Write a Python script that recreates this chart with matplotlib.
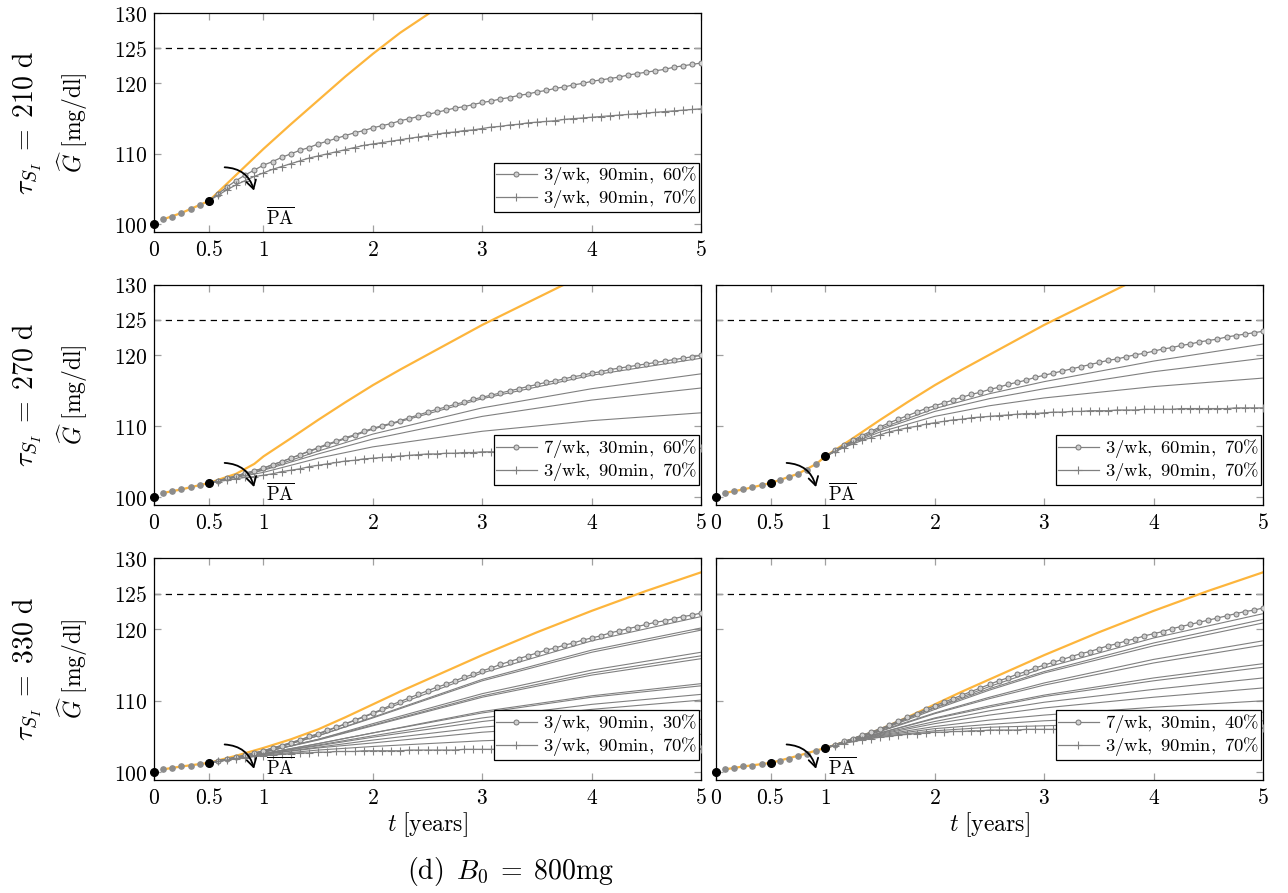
import numpy as np
import matplotlib
matplotlib.use("Agg")
import matplotlib.pyplot as plt

plt.rcParams.update({
    "mathtext.fontset": "cm",
    "font.family": "serif", "font.serif": ["DejaVu Serif"],
    "axes.linewidth": 0.9,
})

# ---------------- data ----------------
# baseline (no PA) glucose curves
orange210_t = [1/12, 0.25, 0.5, 0.75, 1.0, 1.25, 1.5, 1.75, 2.0, 2.25, 2.5, 2.75]
orange210 = [100.7, 101.6, 103.3, 107.0, 110.7, 114.2, 117.6, 121.0, 124.2, 127.2, 129.8, 132.5]
orange270_t = [1/12, 0.25, 0.5, 0.75, 11/12, 1.0, 1.25, 1.5, 1.75, 2.0, 2.25, 2.5, 2.75,
               3.0, 3.25, 3.5, 3.75, 4.0]
orange270 = [100.6, 101.1, 102.0, 103.3, 104.7, 105.75, 108.3, 110.9, 113.4, 115.8, 118.0,
             120.1, 122.2, 124.3, 126.2, 128.1, 130.0, 131.8]
orange330_t = [1/12, 0.25, 0.5, 0.75, 1.0, 1.25, 1.5, 1.75, 2.0, 2.25, 2.5, 2.75, 3.0,
               3.25, 3.5, 3.75, 4.0, 4.25, 4.5, 4.75, 5.0]
orange330 = [100.4, 100.8, 101.3, 102.3, 103.4, 104.6, 106.0, 107.7, 109.5, 111.3, 113.0,
             114.7, 116.4, 118.0, 119.6, 121.1, 122.6, 124.0, 125.4, 126.7, 128.0]

# monthly markers before PA starts (month 1, 2, ...)
pre210 = [100.7, 101.1, 101.6, 102.1, 102.7]
pre270 = [100.6, 100.9, 101.1, 101.4, 101.7, 102.0, 102.4, 102.8, 103.3, 103.9, 104.7]
pre330 = [100.4, 100.6, 100.8, 100.9, 101.1, 101.3, 101.6, 101.9, 102.3, 102.6, 103.0]

dots_t = [0.0, 0.5, 1.0]
dots210 = [100.0, 103.3]
dots270 = [100.0, 102.0, 105.75]
dots330 = [100.0, 101.3, 103.4]

# best (circle) and worst (plus) PA schedules, monthly from PA start
circ210 = [103.3, 104.3, 105.3, 106.2, 107.0, 107.7, 108.4, 108.9, 109.5, 110.0, 110.5, 110.9,
           111.4, 111.8, 112.2, 112.6, 113.0, 113.3, 113.7, 114.0, 114.3, 114.7, 115.0, 115.3,
           115.6, 115.9, 116.2, 116.5, 116.7, 117.0, 117.3, 117.5, 117.8, 118.0, 118.3, 118.5,
           118.8, 119.0, 119.3, 119.5, 119.8, 120.0, 120.3, 120.5, 120.7, 120.9, 121.2, 121.4,
           121.6, 121.8, 122.0, 122.3, 122.5, 122.7, 122.9]
plus210 = [103.3, 104.1, 104.9, 105.6, 106.2, 106.8, 107.3, 107.8, 108.2, 108.6, 109.0, 109.4,
           109.7, 110.0, 110.3, 110.6, 110.9, 111.2, 111.4, 111.6, 111.8, 112.0, 112.2, 112.4,
           112.6, 112.8, 113.0, 113.1, 113.3, 113.4, 113.6, 113.8, 113.9, 114.1, 114.2, 114.4,
           114.5, 114.6, 114.7, 114.9, 115.0, 115.1, 115.2, 115.3, 115.4, 115.5, 115.6, 115.7,
           115.8, 115.9, 116.0, 116.1, 116.2, 116.3, 116.4]

circ270a = [102.0, 102.3, 102.7, 103.0, 103.4, 103.7, 104.1, 104.6, 105.0, 105.5, 106.0, 106.5,
            107.0, 107.5, 107.9, 108.4, 108.8, 109.3, 109.7, 110.1, 110.4, 110.8, 111.2, 111.6,
            112.0, 112.4, 112.7, 113.1, 113.4, 113.8, 114.1, 114.4, 114.7, 115.0, 115.3, 115.6,
            115.9, 116.2, 116.4, 116.7, 117.0, 117.2, 117.5, 117.7, 118.0, 118.2, 118.4, 118.6,
            118.8, 119.0, 119.2, 119.4, 119.6, 119.8, 120.0]
plus270a = [102.0, 102.2, 102.4, 102.6, 102.8, 102.9, 103.1, 103.3, 103.6, 103.8, 104.0, 104.3,
            104.5, 104.7, 104.9, 105.1, 105.2, 105.4, 105.5, 105.6, 105.7, 105.8, 105.9, 106.0,
            106.1, 106.1, 106.2, 106.2, 106.3, 106.3, 106.4, 106.4, 106.4, 106.5, 106.5, 106.5,
            106.6, 106.6, 106.6, 106.6, 106.6, 106.7, 106.7, 106.7, 106.7, 106.7, 106.8, 106.8,
            106.8, 106.8, 106.8, 106.8, 106.9, 106.9, 106.9]

circ270b = [105.75, 106.6, 107.3, 108.0, 108.7, 109.3, 109.9, 110.5, 111.0, 111.5, 112.0, 112.5,
            112.9, 113.3, 113.7, 114.1, 114.5, 114.8, 115.2, 115.5, 115.9, 116.2, 116.5, 116.9,
            117.2, 117.5, 117.8, 118.1, 118.4, 118.7, 119.0, 119.3, 119.5, 119.8, 120.1, 120.3,
            120.6, 120.9, 121.1, 121.4, 121.6, 121.9, 122.1, 122.3, 122.6, 122.8, 123.0, 123.2,
            123.4]
plus270b = [105.75, 106.4, 107.0, 107.5, 108.0, 108.4, 108.8, 109.2, 109.5, 109.8, 110.0, 110.3,
            110.5, 110.7, 110.9, 111.0, 111.2, 111.3, 111.4, 111.5, 111.6, 111.7, 111.8, 111.8,
            111.9, 112.0, 112.0, 112.1, 112.1, 112.2, 112.2, 112.2, 112.3, 112.3, 112.3, 112.4,
            112.4, 112.4, 112.4, 112.5, 112.5, 112.5, 112.5, 112.5, 112.5, 112.6, 112.6, 112.6,
            112.6]

circ330a = [101.3, 101.6, 101.8, 102.1, 102.4, 102.7, 103.0, 103.4, 103.7, 104.1, 104.5, 105.0,
            105.4, 105.9, 106.3, 106.8, 107.3, 107.8, 108.3, 108.8, 109.4, 109.9, 110.4, 110.9,
            111.4, 111.9, 112.3, 112.8, 113.3, 113.7, 114.2, 114.6, 115.1, 115.5, 115.9, 116.3,
            116.7, 117.1, 117.4, 117.8, 118.1, 118.5, 118.8, 119.1, 119.5, 119.8, 120.1, 120.4,
            120.7, 121.0, 121.2, 121.5, 121.8, 122.0, 122.3]
plus330a = [101.3, 101.5, 101.7, 101.9, 102.0, 102.2, 102.3, 102.4, 102.5, 102.6, 102.7, 102.7,
            102.8, 102.8, 102.9, 102.9, 102.9, 103.0, 103.0, 103.0, 103.0, 103.0, 103.1, 103.1,
            103.1, 103.1, 103.1, 103.1, 103.2, 103.2, 103.2, 103.2, 103.2, 103.2, 103.2, 103.2,
            103.2, 103.2, 103.3, 103.3, 103.3, 103.3, 103.3, 103.3, 103.3, 103.3, 103.3, 103.3,
            103.3, 103.3, 103.3, 103.3, 103.3, 103.3, 103.3]

circ330b = [103.4, 103.8, 104.3, 104.7, 105.2, 105.6, 106.1, 106.6, 107.2, 107.7, 108.2, 108.8,
            109.3, 109.8, 110.3, 110.8, 111.3, 111.8, 112.3, 112.8, 113.2, 113.7, 114.1, 114.6,
            115.0, 115.4, 115.8, 116.2, 116.6, 116.9, 117.3, 117.7, 118.0, 118.4, 118.7, 119.1,
            119.4, 119.7, 120.1, 120.4, 120.7, 121.0, 121.3, 121.6, 121.9, 122.2, 122.5, 122.7,
            123.0]
plus330b = [103.4, 103.7, 104.0, 104.3, 104.5, 104.7, 104.9, 105.0, 105.2, 105.3, 105.4, 105.5,
            105.6, 105.6, 105.7, 105.7, 105.8, 105.8, 105.9, 105.9, 105.9, 105.9, 106.0, 106.0,
            106.0, 106.0, 106.0, 106.0, 106.0, 106.1, 106.1, 106.1, 106.1, 106.1, 106.1, 106.1,
            106.1, 106.1, 106.1, 106.1, 106.1, 106.2, 106.2, 106.2, 106.2, 106.2, 106.2, 106.2,
            106.2]

# other PA schedules (thin lines)
thin_t_a = [0.5, 0.75, 1.0, 1.5, 2.0, 3.0, 4.0, 5.0]
thin_t_b = [1.0, 1.25, 1.5, 2.0, 2.5, 3.0, 4.0, 5.0]
thin270a = [
    [102.0, 103.0, 104.1, 106.9, 109.6, 113.9, 117.2, 119.6],
    [102.0, 102.9, 103.9, 106.5, 108.9, 112.6, 115.3, 117.4],
    [102.0, 102.9, 103.8, 106.1, 108.2, 111.4, 113.7, 115.4],
    [102.0, 102.8, 103.5, 105.5, 107.1, 109.3, 110.8, 111.9],
]
thin270b = [
    [105.75, 107.9, 109.7, 112.5, 114.6, 116.3, 119.2, 121.6],
    [105.75, 107.8, 109.5, 112.1, 113.9, 115.3, 117.7, 119.6],
    [105.75, 107.7, 109.2, 111.4, 112.9, 114.0, 115.6, 116.8],
]
thin330a = [
    [101.3, 102.1, 103.0, 105.3, 108.2, 113.9, 118.4, 121.8],
    [101.3, 102.1, 102.9, 105.1, 107.7, 113.0, 117.1, 120.2],
    [101.3, 102.1, 102.9, 105.1, 107.6, 112.8, 116.8, 119.9],
    [101.3, 102.0, 102.8, 104.6, 106.8, 111.0, 114.3, 116.8],
    [101.3, 102.0, 102.8, 104.6, 106.6, 110.7, 113.9, 116.3],
    [101.3, 102.0, 102.8, 104.5, 106.5, 110.5, 113.6, 115.9],
    [101.3, 102.0, 102.6, 104.0, 105.5, 108.5, 110.7, 112.4],
    [101.3, 102.0, 102.6, 104.0, 105.5, 108.3, 110.5, 112.1],
    [101.3, 102.0, 102.6, 103.8, 105.1, 107.6, 109.5, 110.9],
    [101.3, 102.0, 102.6, 103.7, 104.9, 107.1, 108.8, 110.1],
    [101.3, 102.0, 102.5, 103.5, 104.5, 106.3, 107.6, 108.6],
    [101.3, 101.9, 102.5, 103.4, 104.1, 105.6, 106.6, 107.4],
    [101.3, 101.9, 102.4, 103.1, 103.6, 104.4, 104.9, 105.3],
]
thin330b = [
    [103.4, 104.7, 106.0, 109.1, 112.0, 114.6, 118.8, 122.2],
    [103.4, 104.7, 106.0, 109.0, 111.7, 114.1, 118.1, 121.4],
    [103.4, 104.6, 105.9, 108.8, 111.5, 113.9, 117.7, 120.9],
    [103.4, 104.6, 105.8, 108.3, 110.5, 112.5, 115.8, 118.4],
    [103.4, 104.6, 105.7, 108.2, 110.3, 112.2, 115.3, 117.8],
    [103.4, 104.5, 105.5, 107.6, 109.3, 110.8, 113.2, 115.2],
    [103.4, 104.5, 105.5, 107.5, 109.1, 110.6, 112.8, 114.7],
    [103.4, 104.5, 105.4, 107.1, 108.6, 109.8, 111.6, 113.2],
    [103.4, 104.4, 105.3, 106.8, 108.0, 109.0, 110.5, 111.8],
    [103.4, 104.4, 105.2, 106.4, 107.3, 108.0, 109.1, 110.0],
    [103.4, 104.4, 105.1, 106.1, 106.7, 107.2, 107.8, 108.4],
    [103.4, 104.3, 105.0, 105.8, 106.3, 106.5, 106.9, 107.2],
]

best_labels = ["3/wk, 90min, 60%", "7/wk, 30min, 60%", "3/wk, 60min, 70%",
               "3/wk, 90min, 30%", "7/wk, 30min, 40%"]
worst_label = "3/wk, 90min, 70%"
tau_labels = ["210", "270", "330"]
xticks = [0, 0.5, 1, 2, 3, 4, 5]
yticks = [100, 110, 120, 125, 130]
threshold = 125
# --------------------------------------------------

ORANGE = "#FDB53C"
GRAY = "#808080"


def mathrm(s):
    return r"$\mathrm{" + s.replace(" ", r"\ ").replace("%", r"\%") + "}$"


def draw_panel(ax, o_t, o_v, pre, pa_month, dots, circ, plus, thin_t, thin, best,
               arrow_y, pa_y, ylabels=True):
    months = np.arange(1, pa_month)
    ax.axhline(threshold, color="black", lw=0.9, ls=(0, (5, 4)), zorder=1)
    ax.plot(o_t, o_v, color=ORANGE, lw=1.6, zorder=2)
    for row in thin:
        ax.plot(thin_t, row, color=GRAY, lw=0.8, zorder=3)
    tc = (pa_month + np.arange(len(circ))) / 12
    tp = (pa_month + np.arange(len(plus))) / 12
    ax.plot(tc, circ, color=GRAY, lw=0.9, marker="o", ms=3.6, mfc="#cfcfcf",
            mec="#777777", mew=0.7, zorder=4, label=mathrm(best))
    ax.plot(tp, plus, color=GRAY, lw=0.9, marker="+", ms=6, mew=0.8, zorder=4,
            label=mathrm(worst_label))
    ax.plot(months / 12, pre[:pa_month - 1], ls="none", marker="o", ms=3.8,
            color="#8c8c8c", zorder=5)
    ax.plot(dots_t[:len(dots)], dots, ls="none", marker="o", ms=5.5, color="black",
            zorder=6, clip_on=False)

    ax.annotate("", xy=(0.92, arrow_y[1]), xytext=(0.62, arrow_y[0]),
                arrowprops=dict(arrowstyle="->,head_length=0.6,head_width=0.35",
                                color="black", lw=1.3,
                                connectionstyle="arc3,rad=-0.4"), zorder=7)
    ax.text(1.02, pa_y, r"$\overline{\mathrm{PA}}$", fontsize=13.5, va="center",
            ha="left", zorder=7)

    ax.set_xlim(0, 5)
    ax.set_ylim(98.9, 130)
    ax.set_xticks(xticks)
    ax.set_xticklabels(["$%g$" % v for v in xticks], fontsize=15.5)
    ax.set_yticks(yticks)
    if ylabels:
        ax.set_yticklabels(["$%d$" % v for v in yticks], fontsize=15.5)
    else:
        ax.set_yticklabels([])
    ax.tick_params(direction="in", top=True, right=True, length=5, width=0.9,
                   color="#a0a0a0", pad=5)
    leg = ax.legend(loc="lower right", bbox_to_anchor=(0.997, 0.09), fontsize=13.4,
                    frameon=True, fancybox=False, edgecolor="black", framealpha=1,
                    borderaxespad=0, handlelength=2.2, handletextpad=0.35,
                    borderpad=0.1, labelspacing=0.0)
    leg.get_frame().set_linewidth(0.9)
    leg.set_zorder(10)


fig = plt.figure(figsize=(12.88, 8.93), dpi=100)
lx, rx, w = 0.1196, 0.5559, 0.4247
rows = [(0.7402, 0.2452), (0.4345, 0.2469), (0.1265, 0.2486)]

ax1 = fig.add_axes([lx, rows[0][0], w, rows[0][1]])
ax2 = fig.add_axes([lx, rows[1][0], w, rows[1][1]])
ax3 = fig.add_axes([rx, rows[1][0], w, rows[1][1]])
ax4 = fig.add_axes([lx, rows[2][0], w, rows[2][1]])
ax5 = fig.add_axes([rx, rows[2][0], w, rows[2][1]])

draw_panel(ax1, orange210_t, orange210, pre210, 6, dots210, circ210, plus210,
           thin_t_a, [], best_labels[0], (108.1, 104.4), 100.9)
draw_panel(ax2, orange270_t, orange270, pre270, 6, dots270[:2], circ270a, plus270a,
           thin_t_a, thin270a, best_labels[1], (104.85, 101.05), 100.5)
draw_panel(ax3, orange270_t, orange270, pre270, 12, dots270, circ270b, plus270b,
           thin_t_b, thin270b, best_labels[2], (104.85, 101.05), 100.5, ylabels=False)
draw_panel(ax4, orange330_t, orange330, pre330, 6, dots330[:2], circ330a, plus330a,
           thin_t_a, thin330a, best_labels[3], (103.9, 100.1), 100.6)
draw_panel(ax5, orange330_t, orange330, pre330, 12, dots330, circ330b, plus330b,
           thin_t_b, thin330b, best_labels[4], (103.9, 100.1), 100.6, ylabels=False)

for (b, h), tau in zip(rows, tau_labels):
    yc = b + h / 2
    fig.text(27 / 1288, yc, r"$\tau_{S_I}\;=\;%s\ \mathrm{d}$" % tau, rotation=90,
             ha="center", va="center", fontsize=20)
    fig.text(73 / 1288, yc, r"$\widehat{G}\ [\mathrm{mg/dl}]$", rotation=90,
             ha="center", va="center", fontsize=17)

for ax in (ax4, ax5):
    ax.set_xlabel(r"$t\ [\mathrm{years}]$", fontsize=17, labelpad=1)

fig.text(510 / 1288, 1 - 872 / 893, r"$\mathrm{(d)}\ \,B_0\;=\;800\mathrm{mg}$",
         ha="center", va="center", fontsize=20)

fig.savefig("out.png", dpi=100)
